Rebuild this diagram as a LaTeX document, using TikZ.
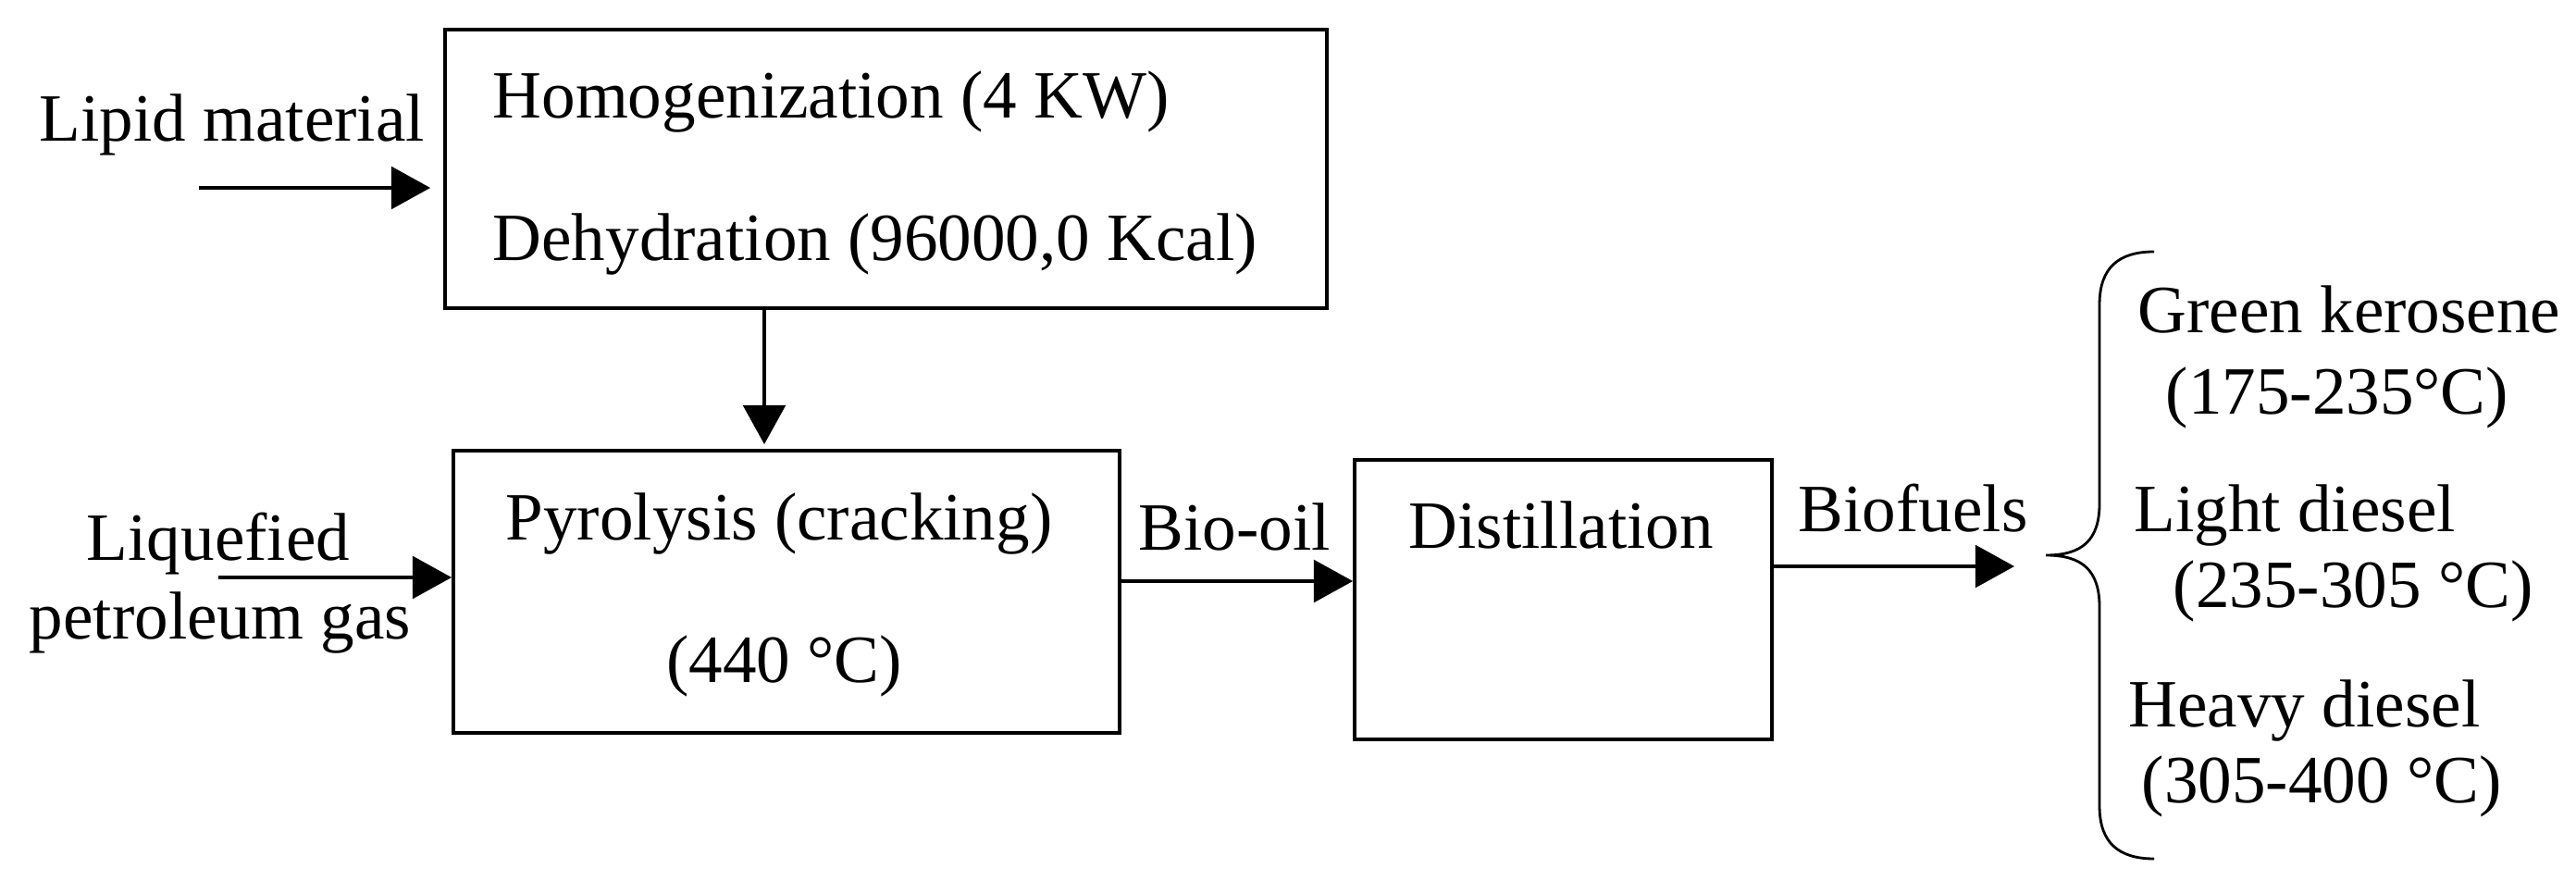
\documentclass[tikz,border=0pt]{standalone}
\usepackage{fontspec}
\setmainfont{Liberation Serif}
\usetikzlibrary{arrows.meta,positioning,calc}

\tikzset{
  stepbox/.style={draw, line width=1.1pt, inner sep=0pt},
  lbl/.style={inner sep=0pt, font=\fontsize{20.8}{24.5}\selectfont},
  flow/.style={line width=1pt, -{Triangle[length=12pt,width=13pt]}},
}

\begin{document}
\begin{tikzpicture}
        \useasboundingbox (0,0) rectangle (27.84,9.64);
        % boxes
        \node[stepbox, minimum width=9.53cm, minimum height=3.01cm] (homog) at (9.575,7.815) {};
        \node[stepbox, minimum width=7.2cm, minimum height=3.05cm] (pyro) at (8.5,3.245) {};
        \node[stepbox, minimum width=4.51cm, minimum height=3.02cm] (distill) at (16.895,3.16) {};
        % box texts
        \node[lbl, anchor=base west] (homogtxt) at (5.32,8.36) {Homogenization (4 KW)};
        \node[lbl, anchor=base west] (dehydtxt) at (5.32,6.82) {Dehydration (96000,0 Kcal)};
        \node[lbl, anchor=base] (pyrotxt) at (8.42,3.81) {Pyrolysis (cracking)};
        \node[lbl, anchor=base] (temptxt) at (8.475,2.27) {(440 °C)};
        \node[lbl, anchor=base west] (distilltxt) at (15.22,3.71) {Distillation};
        % inputs and outputs
        \node[lbl, anchor=base west] (lipid) at (0.42,8.11) {Lipid material};
        \node[lbl, anchor=base] (lpga) at (2.36,3.59) {Liquefied};
        \node[lbl, anchor=base] (lpgb) at (2.38,2.74) {petroleum gas};
        \node[lbl, anchor=base west] (biooil) at (12.30,3.69) {Bio-oil};
        \node[lbl, anchor=base west] (biofuels) at (19.43,3.89) {Biofuels};
        % fractions
        \node[lbl, anchor=base west] (kero) at (23.10,6.04) {Green kerosene};
        \node[lbl, anchor=base west] (kerot) at (23.40,5.16) {(175-235°C)};
        \node[lbl, anchor=base west] (light) at (23.06,3.90) {Light diesel};
        \node[lbl, anchor=base west] (lightt) at (23.48,3.08) {(235-305 °C)};
        \node[lbl, anchor=base west] (heavy) at (23.00,1.79) {Heavy diesel};
        \node[lbl, anchor=base west] (heavyt) at (23.14,0.97) {(305-400 °C)};
        % connector ends
        \coordinate (lipidin) at (2.15,7.61);
        \coordinate (lpgin) at (2.36,3.40);
        \coordinate (drop) at (8.26,0);
        \coordinate (oil) at (0,3.36);
        \coordinate (fuelout) at (21.77,3.52);
        % arrows
        \draw[flow, shorten >=1.4mm] (lipidin) -- (homog.west |- lipidin);
        \draw[flow, shorten >=0.5mm] (homog.south -| drop) -- (pyro.north -| drop);
        \draw[flow] (lpgin) -- (pyro.west |- lpgin);
        \draw[flow] (pyro.east |- oil) -- (distill.west |- oil);
        \draw[flow] (distill.east |- fuelout) -- (fuelout);
        % brace
        \draw[line width=0.8pt] (23.28,6.92) .. controls (22.9,6.92) and (22.69,6.75) .. (22.69,6.35)
            -- (22.69,4.2) .. controls (22.69,3.8) and (22.5,3.64) .. (22.11,3.64)
            .. controls (22.5,3.64) and (22.69,3.48) .. (22.69,3.08)
            -- (22.69,0.93) .. controls (22.69,0.53) and (22.9,0.36) .. (23.28,0.36);
    \end{tikzpicture}
\end{document}
